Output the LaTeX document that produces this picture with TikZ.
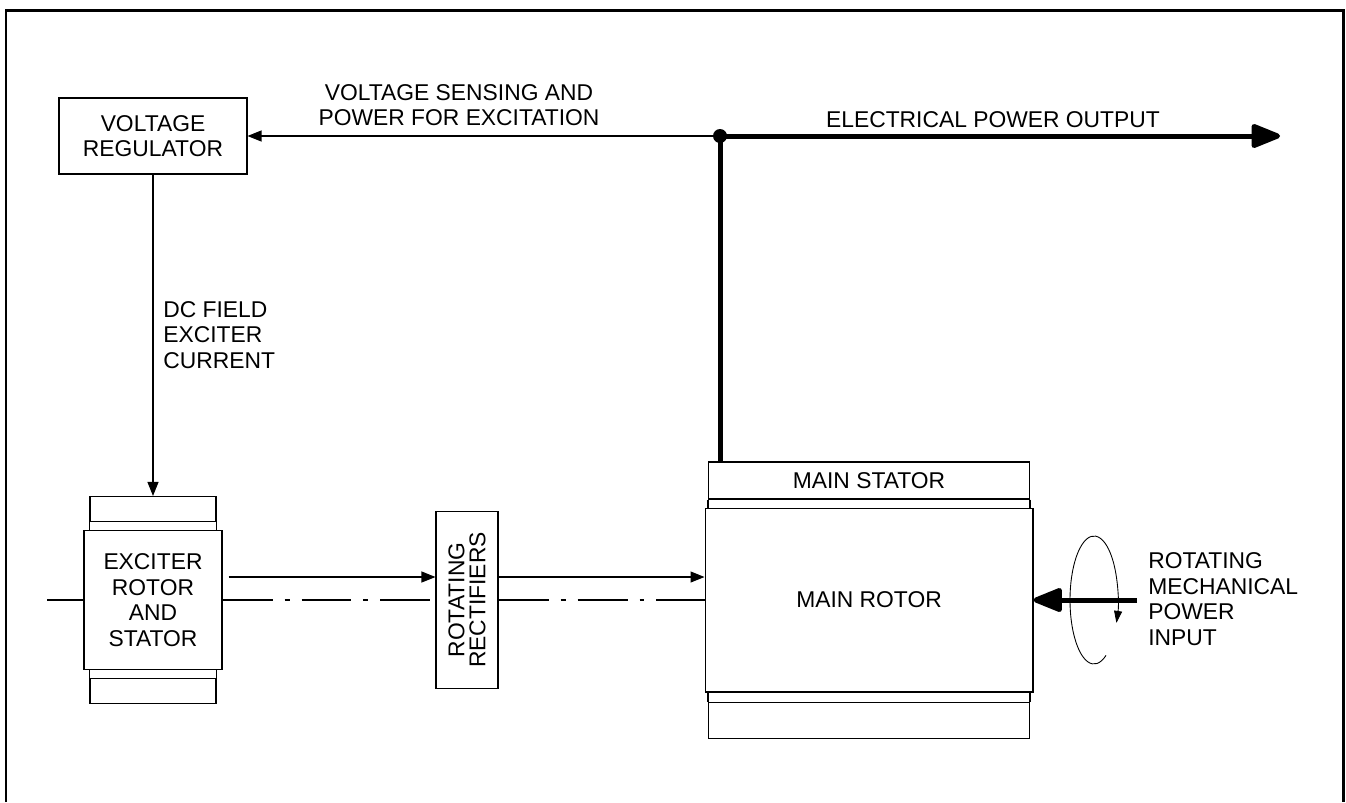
\documentclass[tikz,border=0pt]{standalone}
\usepackage{fontspec}
\setmainfont{Liberation Sans}
\usetikzlibrary{arrows.meta, positioning}

\begin{document}
\begin{tikzpicture}[x=0.02cm, y=-0.02cm, font=\fontsize{13}{14.6}\selectfont,
  box/.style={draw, line width=0.6pt, fill=white, inner sep=0pt, align=center},
  sig/.style={-{Triangle[length=0.28cm, width=0.22cm]}, line width=0.6pt},
  power/.style={line width=0.1cm},
  bigtip/.style={-{Triangle[length=0.66cm, width=0.5cm, round]}},
  shaft/.style={line width=0.6pt, dash pattern=on 1cm off 0.24cm on 0.1cm off 0.24cm},
  lbl/.style={inner sep=0pt, align=left}]
\useasboundingbox (0,0) rectangle (1346,802);

% Frame
\draw[line width=0.06cm] (6,802) -- (6,10) -- (1343,10) -- (1343,802);

% Regulator and exciter
\node[box, minimum width=3.76cm, minimum height=1.52cm] (vreg) at (153,136) {VOLTAGE\\REGULATOR};
\node[box, minimum width=2.76cm, minimum height=2.78cm] (exciter) at (153,600) {EXCITER\\ROTOR\\AND\\STATOR};
\node[box, minimum width=2.52cm, minimum height=0.5cm, above=0.16cm of exciter] (exctop) {};
\node[box, minimum width=2.52cm, minimum height=0.5cm, below=0.16cm of exciter] (excbot) {};
\draw[line width=0.6pt] (exctop.south west) -- (exctop.south west |- exciter.north)
  (exctop.south east) -- (exctop.south east |- exciter.north)
  (excbot.north west) -- (excbot.north west |- exciter.south)
  (excbot.north east) -- (excbot.north east |- exciter.south);

% Rectifiers
\node[box, minimum width=1.24cm, minimum height=3.54cm] (rect) at (467,600) {};
\node[inner sep=0pt, align=center, rotate=90, font=\fontsize{13}{12}\selectfont] (recttxt) at (rect) {ROTATING\\RECTIFIERS};

% Main machine
\node[box, minimum width=6.56cm, minimum height=3.68cm] (mainrotor) at (869,600) {MAIN ROTOR};
\node[box, minimum width=6.42cm, minimum height=0.74cm, above=0.16cm of mainrotor] (mainstator) {MAIN STATOR};
\node[box, minimum width=6.42cm, minimum height=0.72cm, below=0.18cm of mainrotor] (mainbase) {};
\draw[line width=0.6pt] (mainstator.south west) -- (mainstator.south west |- mainrotor.north)
  (mainstator.south east) -- (mainstator.south east |- mainrotor.north)
  (mainbase.north west) -- (mainbase.north west |- mainrotor.south)
  (mainbase.north east) -- (mainbase.north east |- mainrotor.south);

% Shaft axis
\coordinate (axisstart) at (47,600);
\draw[shaft] (axisstart) -- (exciter.west);
\draw[shaft] (exciter.east) -- (rect.west);
\draw[shaft] (rect.east) -- (mainrotor.west);

% Power and signal paths
\coordinate (junc) at (720,136);
\coordinate (outend) at (1280,136);
\draw[power, bigtip, line join=miter] (junc |- mainstator.north) -- (junc) -- (outend);
\fill (junc) circle (0.14cm);
\draw[sig] (junc) -- (vreg.east);
\draw[sig] (vreg.south) -- (exctop.north);
\draw[sig] ([shift={(0.12cm,0.46cm)}]exciter.east) -- ([yshift=0.46cm]rect.west);
\draw[sig] ([yshift=0.46cm]rect.east) -- ([yshift=0.46cm]mainrotor.west);

% Mechanical input
\coordinate (mechin) at (1137,600);
\coordinate (spin) at (1094,600);
\draw[line width=0.5pt, -{Triangle[length=0.24cm, width=0.16cm]}] (spin) ++(12,55.4)
  arc[start angle=-60, end angle=-381, x radius=0.48cm, y radius=1.28cm];
\draw[power, bigtip] (mechin) -- (mainrotor.east);

% Labels
\node[lbl, align=center] (senselbl) at (459,105) {VOLTAGE SENSING AND\\POWER FOR EXCITATION};
\node[lbl] (outlbl) at (993,120) {ELECTRICAL POWER OUTPUT};
\node[lbl, anchor=west] (dclbl) at (163,335) {DC FIELD\\EXCITER\\CURRENT};
\node[lbl, anchor=west] (mechlbl) at (1148,599) {ROTATING\\MECHANICAL\\POWER\\INPUT};
\end{tikzpicture}
\end{document}
